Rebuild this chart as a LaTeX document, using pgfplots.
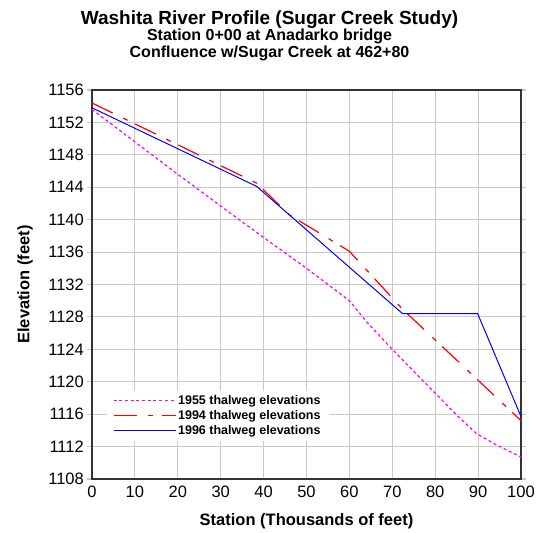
\documentclass[border=0pt]{standalone}
\usepackage{fontspec}
\setmainfont{Liberation Sans}
\usepackage{pgfplots}
\pgfplotsset{compat=1.18}
\definecolor{magentaline}{RGB}{255,0,255}
\definecolor{redline}{RGB}{255,0,0}
\definecolor{blueline}{RGB}{0,0,255}
\definecolor{gridgray}{RGB}{200,200,200}
\begin{document}
\begin{tikzpicture}
\begin{axis}[
    at={(0,0)}, anchor=south west,
    width=429bp, height=389bp, scale only axis,
    xmin=0, xmax=100, ymin=1108, ymax=1156,
    xtick={0,10,...,100},
    ytick={1108,1112,...,1156},
    grid=major,
    major grid style={draw=gridgray, line width=1.1bp},
    axis line style={draw=black!80, line width=1.1bp},
    tick align=outside,
    major tick length=5bp,
    tick style={draw=gridgray, line width=1.1bp},
    xtick style={draw=none},
    /pgf/number format/assume math mode=true,
    /pgf/number format/1000 sep={},
    tick label style={font=\fontsize{16.5bp}{19bp}\selectfont},
    yticklabel style={inner xsep=3bp},
    xticklabel style={inner ysep=2bp},
    xlabel={Station (Thousands of feet)},
    ylabel={Elevation (feet)},
    label style={font=\fontsize{16.5bp}{19bp}\selectfont\bfseries},
    xlabel style={at={(rel axis cs:0.5,-0.1098)}, anchor=center},
    ylabel style={at={(rel axis cs:-0.1562,0.5)}, anchor=center},
    legend style={at={(rel axis cs:0.0343,0.0977)}, anchor=south west,
        draw=none, fill=white, inner xsep=6bp, inner ysep=3bp,
        font=\fontsize{12.5bp}{15bp}\selectfont\bfseries,
        cells={anchor=west}, row sep=0.3bp},
    legend image code/.code={\path (0bp,0bp) -- (62bp,0bp);
        \draw[#1] (0bp,0bp) -- (58bp,0bp);},
    clip=false,
]
\addplot[magentaline, line width=1.2bp, dash pattern=on 3bp off 2.7bp] coordinates {
    (0,1153.6) (10,1149.6) (20,1145.6) (32,1140.9) (40,1137.8) (50,1134.0)
    (54,1132.4) (60,1130.0) (64,1127.4) (70,1124.0) (77,1120.2) (85,1115.9)
    (89.6,1113.6) (94.3,1112.2) (100,1110.7)};
\addlegendentry{1955 thalweg elevations}
\addplot[redline, line width=1.2bp, dash pattern=on 23bp off 11.6bp on 5bp off 8.4bp] coordinates {
    (0,1154.4) (38.4,1144.5) (46,1140.6) (60,1136.1) (72.5,1128.9) (100,1115.2)};
\addlegendentry{1994 thalweg elevations}
\addplot[blueline, line width=1bp] coordinates {
    (0,1153.8) (38.4,1144.1) (72.4,1128.4) (89.9,1128.4) (100,1115.7)};
\addlegendentry{1996 thalweg elevations}
\node[font=\fontsize{19bp}{22bp}\selectfont\bfseries] at (rel axis cs:0.4138,1.180) {Washita River Profile (Sugar Creek Study)};
\node[font=\fontsize{16bp}{18bp}\selectfont\bfseries] at (rel axis cs:0.4138,1.137) {Station 0+00 at Anadarko bridge};
\node[font=\fontsize{16bp}{18bp}\selectfont\bfseries] at (rel axis cs:0.4138,1.094) {Confluence w/Sugar Creek at 462+80};
\end{axis}
\path[use as bounding box] (-92bp,-52bp) rectangle (447bp,479bp);
\end{tikzpicture}
\end{document}
